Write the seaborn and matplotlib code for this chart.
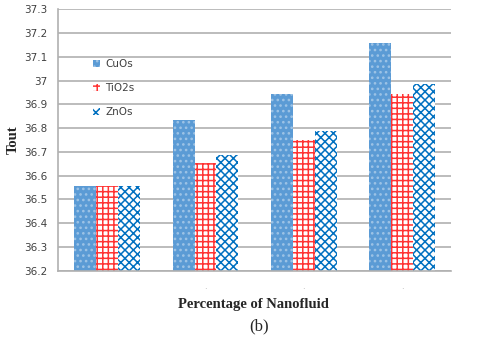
import matplotlib
matplotlib.use("Agg")
import matplotlib.pyplot as plt
import seaborn as sns
import pandas as pd
import numpy as np

# values
groups = ["g1", "g2", "g3", "g4"]
tick_labels = ["", ".", ".", "."]
series = ["CuOs", "TiO2s", "ZnOs"]
cuos = [36.558, 36.835, 36.943, 37.160]
tio2s = [36.555, 36.653, 36.750, 36.945]
znos = [36.556, 36.687, 36.788, 36.986]

df = pd.DataFrame({
    "group": groups * 3,
    "series": [s for s in series for _ in groups],
    "Tout": cuos + tio2s + znos,
})

sns.set_style("white")
plt.rcParams["hatch.linewidth"] = 1.1

fig = plt.figure(figsize=(4.8, 3.38), dpi=100)
ax = fig.add_axes([0.121, 0.199, 0.819, 0.773])

face = {"CuOs": "#5B9BD5", "TiO2s": "white", "ZnOs": "white"}
edge = {"CuOs": "#9DC3E6", "TiO2s": "#FF3333", "ZnOs": "#0070C0"}
hatch = {"CuOs": "...", "TiO2s": "+++", "ZnOs": "xxxx"}

sns.barplot(data=df, x="group", y="Tout", hue="series", order=groups,
            hue_order=series, width=0.67, ax=ax, legend=False,
            palette=[face[s] for s in series])

for cont, s in zip(ax.containers, series):
    for bar in cont:
        bar.set_facecolor(face[s])
        bar.set_edgecolor(edge[s])
        bar.set_hatch(hatch[s])
        bar.set_linewidth(0)

ax.set_ylim(36.2, 37.3)
yt = np.round(np.arange(36.2, 37.31, 0.1), 1)
ax.set_yticks(yt)
ax.set_yticklabels([f"{v:g}" for v in yt], fontsize=7.5, color="#404040")
ax.set_xticks(range(len(groups)))
ax.set_xticklabels(tick_labels, fontsize=6, color="#aaaaaa")
ax.tick_params(axis="y", length=0, pad=8)
ax.tick_params(axis="x", length=0, pad=8)

ax.yaxis.grid(True, color="#b0b0b0", linewidth=1.2)
ax.set_axisbelow(True)
for side in ["top", "right"]:
    ax.spines[side].set_visible(False)
ax.spines["left"].set_color("#b0b0b0")
ax.spines["bottom"].set_color("#b0b0b0")
ax.spines["left"].set_linewidth(1.2)
ax.spines["bottom"].set_linewidth(1.2)

handles = [cont[0] for cont in ax.containers]
ax.legend(handles, series, loc="upper left", bbox_to_anchor=(0.065, 0.845),
          frameon=False, fontsize=7.5, handlelength=0.7, handleheight=0.7,
          handletextpad=0.5, labelspacing=1.35, labelcolor="#404040")

ax.set_xlabel("")
ax.set_ylabel("Tout", fontsize=10.5, fontweight="bold",
              family="Liberation Serif", labelpad=3)
fig.text(0.527, 0.10, "Percentage of Nanofluid", ha="center", va="center",
         fontsize=10.5, fontweight="bold", family="Liberation Serif")
fig.text(0.54, 0.033, "(b)", ha="center", va="center", fontsize=12,
         family="Liberation Serif")

fig.savefig("out.png", dpi=100)
